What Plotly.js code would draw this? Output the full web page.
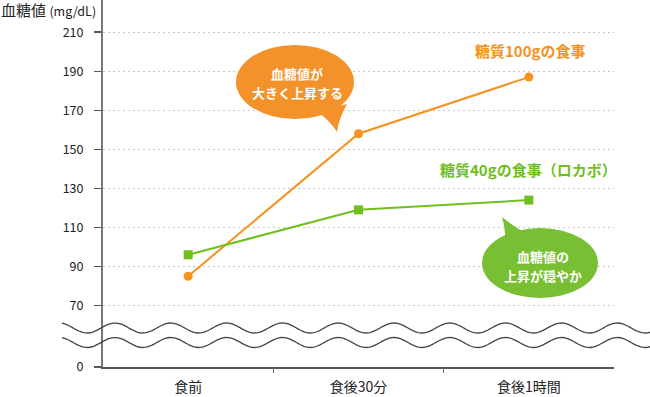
<!DOCTYPE html>
<html>
<head>
<meta charset="utf-8">
<script src="https://cdn.plot.ly/plotly-3.0.1.min.js"></script>
<style>html,body{margin:0;padding:0;background:#fff;}#chart{width:650px;height:397px;}</style>
</head>
<body>
<div id="chart"></div>
<script>
// ---- data ----
const categories = ['食前', '食後30分', '食後1時間'];
const carb100 = [85, 158, 187];   // 糖質100gの食事
const carb40 = [96, 119, 124];    // 糖質40gの食事（ロカボ）
const yTickValues = [70, 90, 110, 130, 150, 170, 190, 210];
const yTickLabels = ['70', '90', '110', '130', '150', '170', '190', '210'];
const zeroLabel = '0';
const series100Name = '糖質100gの食事';
const series40Name = '糖質40gの食事（ロカボ）';
const bubble100Lines = ['血糖値が', '大きく上昇する'];
const bubble40Lines = ['血糖値の', '上昇が穏やか'];
const yTitle = '血糖値';
const yUnit = '(mg/dL)';

// ---- layout geometry ----
const W = 650, H = 397;
const M = {l: 103, r: 36, t: 0, b: 30};
const PW = W - M.l - M.r, PH = H - M.t - M.b;
const fx = x => (x - M.l) / PW;          // pixel -> paper (decorations)
const fy = y => (H - M.b - y) / PH;
const breakPos = 38.5;                   // axis position standing for 0 below the break
const yRange = [breakPos, 226.5];

const orange = '#f7921e';
const green = '#6fbf1f';
const bubbleOrange = '#f3922a';
const bubbleGreen = '#79bf33';
const FONT = '"Noto Sans CJK JP", "Noto Sans", sans-serif';

const traces = [
  {x: categories, y: carb100, type: 'scatter', mode: 'lines+markers',
   line: {color: orange, width: 2}, marker: {color: orange, size: 9, symbol: 'circle'},
   name: series100Name, showlegend: false, hoverinfo: 'skip'},
  {x: categories, y: carb40, type: 'scatter', mode: 'lines+markers',
   line: {color: green, width: 2}, marker: {color: green, size: 9, symbol: 'square'},
   name: series40Name, showlegend: false, hoverinfo: 'skip'},
  {x: [], y: [], xaxis: 'x2', yaxis: 'y', type: 'scatter', showlegend: false, hoverinfo: 'skip'}
];

// wavy break lines (decoration)
function wave(cy) {
  const A = 5, period = 55.8, phase = 115;
  let d = '';
  for (let x = 62; x <= 650; x += 2) {
    const y = cy - A * Math.cos(2 * Math.PI * (x - phase) / period);
    d += (d ? ' L ' : 'M ') + fx(x).toFixed(5) + ',' + fy(y).toFixed(5);
  }
  return d;
}
function P(x, y) { return fx(x).toFixed(5) + ',' + fy(y).toFixed(5); }

const shapes = [
  {type: 'path', xref: 'paper', yref: 'paper', path: wave(328), line: {color: '#444', width: 1.3}},
  {type: 'path', xref: 'paper', yref: 'paper', path: wave(342.5), line: {color: '#444', width: 1.3}},
  // orange bubble
  {type: 'circle', xref: 'paper', yref: 'paper', x0: fx(236), x1: fx(354), y0: fy(119), y1: fy(45),
   fillcolor: bubbleOrange, line: {width: 0}, layer: 'above'},
  {type: 'path', xref: 'paper', yref: 'paper',
   path: 'M ' + P(318, 112) + ' Q ' + P(331, 122) + ' ' + P(337, 132) + ' Q ' + P(339, 118) + ' ' + P(347, 104) + ' Z',
   fillcolor: bubbleOrange, line: {width: 0}, layer: 'above'},
  // green bubble
  {type: 'circle', xref: 'paper', yref: 'paper', x0: fx(482), x1: fx(598), y0: fy(298), y1: fy(228),
   fillcolor: bubbleGreen, line: {width: 0}, layer: 'above'},
  {type: 'path', xref: 'paper', yref: 'paper',
   path: 'M ' + P(505, 246) + ' Q ' + P(506, 230) + ' ' + P(502, 217) + ' Q ' + P(515, 228) + ' ' + P(531, 236) + ' Z',
   fillcolor: bubbleGreen, line: {width: 0}, layer: 'above'}
];

function label(x, y, text, size, color, anchor) {
  return {xref: 'paper', yref: 'paper', x: fx(x), y: fy(y), xanchor: anchor || 'center', yanchor: 'middle',
          showarrow: false, borderpad: 0, text: text, font: {family: FONT, size: size, color: color}};
}

const annotations = [
  label(0, 9, yTitle + ' <span style="font-size:12.5px">' + yUnit + '</span>', 15, '#222', 'left'),
  label(530, 50, '<b>' + series100Name + '</b>', 15, orange),
  label(528, 170, '<b>' + series40Name + '</b>', 15, green),
  label(297, 73, '<b>' + bubble100Lines[0] + '</b>', 13, '#fff'),
  label(297, 92, '<b>' + bubble100Lines[1] + '</b>', 13, '#fff'),
  label(543, 256, '<b>' + bubble40Lines[0] + '</b>', 13, '#fff'),
  label(543, 275, '<b>' + bubble40Lines[1] + '</b>', 13, '#fff')
];

const layout = {
  width: W, height: H, margin: M, paper_bgcolor: '#fff', plot_bgcolor: '#fff',
  font: {family: FONT, color: '#222'},
  showlegend: false,
  xaxis: {type: 'category', range: [-0.5, 2.5], showline: true, linecolor: '#555', linewidth: 1.5,
          ticks: '', showgrid: false, zeroline: false, tickfont: {size: 14, color: '#222'},
          ticklabelstandoff: 7, fixedrange: true},
  xaxis2: {overlaying: 'x', anchor: 'y', side: 'bottom', range: [-0.5, 2.5], tickmode: 'array',
           tickvals: [0.5, 1.5], ticks: 'outside', ticklen: 5, tickwidth: 1.5, tickcolor: '#666',
           showticklabels: false, showline: false, showgrid: false, zeroline: false},
  yaxis: {range: yRange, tickmode: 'array', tickvals: [breakPos].concat(yTickValues),
          ticktext: [zeroLabel].concat(yTickLabels), showline: true, linecolor: '#777', linewidth: 2,
          ticks: 'outside', ticklen: 7, tickwidth: 1.5, tickcolor: '#555',
          showgrid: true, gridcolor: '#c8c8c8', gridwidth: 1, griddash: '2px,3px', zeroline: false,
          tickfont: {size: 12.5, color: '#222'}, ticklabelstandoff: 8, fixedrange: true},
  shapes: shapes,
  annotations: annotations
};

Plotly.newPlot('chart', traces, layout, {staticPlot: true, displayModeBar: false});
</script>
</body>
</html>
